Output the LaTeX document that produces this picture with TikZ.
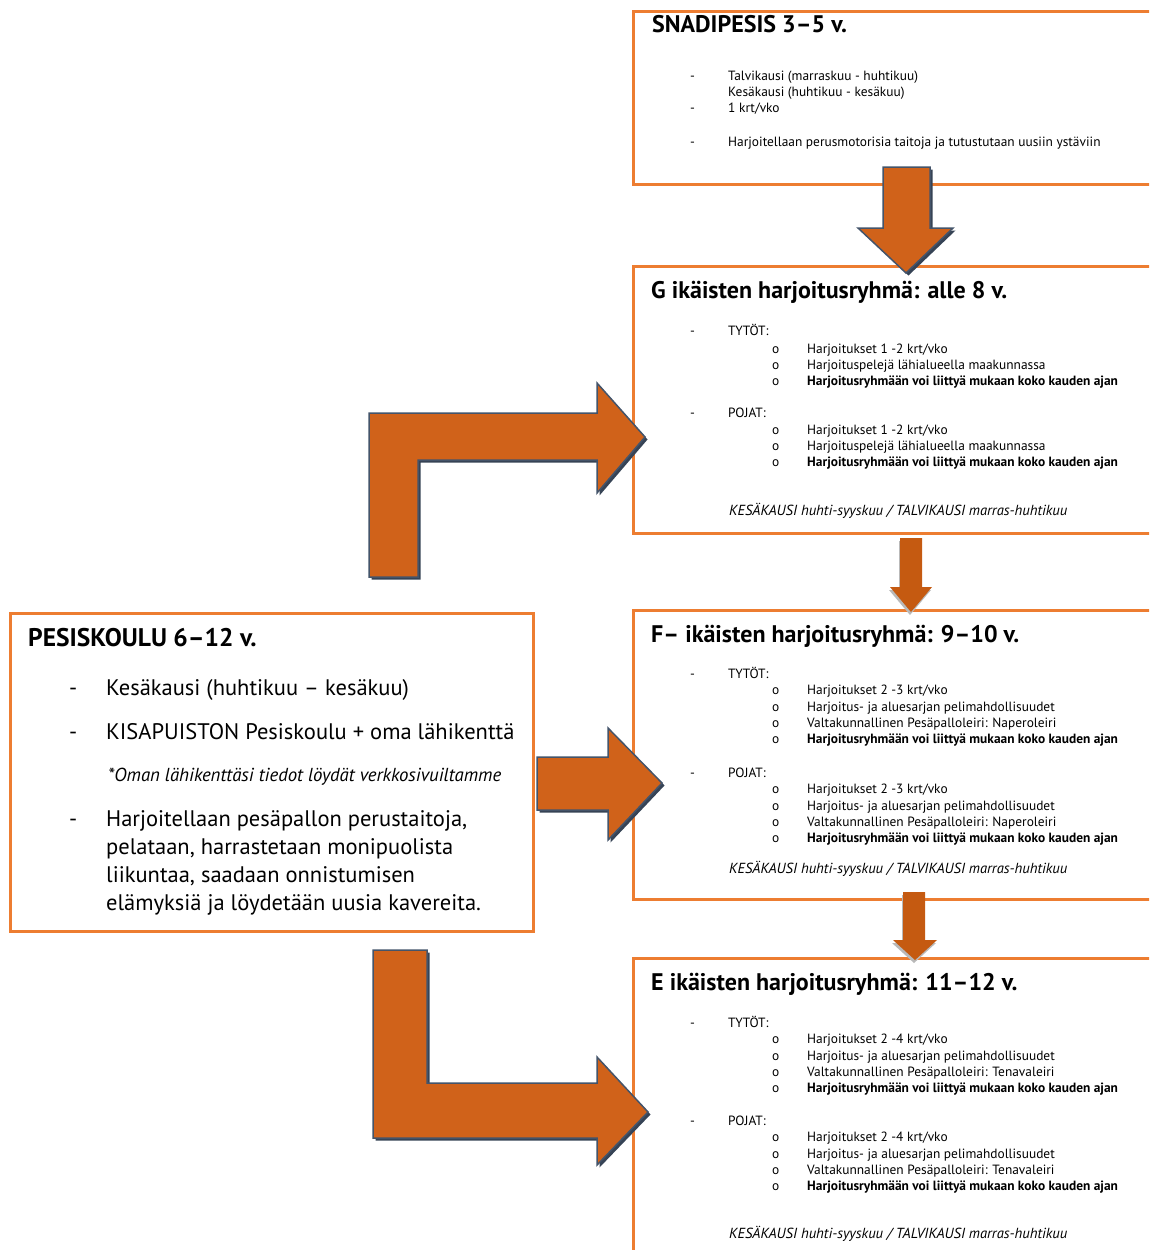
\documentclass[tikz,border=0pt]{standalone}
\usepackage{fontspec}
\setmainfont{PT Sans}
\usetikzlibrary{positioning}
\usepackage{xcolor}

\definecolor{boxorange}{HTML}{ED7D31}
\definecolor{arroworange}{HTML}{D0621A}
\definecolor{flatorange}{HTML}{C55A11}
\definecolor{arrowedge}{HTML}{44546A}

\tikzset{
  box/.style={draw=boxorange, line width=3pt, anchor=north west, inner sep=0pt},
  bigarrow/.style={fill=arroworange, draw=arrowedge, line width=1.5pt, line join=miter,
    preaction={fill=arrowedge!80!black, transform canvas={xshift=2.5pt, yshift=-2.5pt}}},
  flatarrow/.style={fill=flatorange,
    preaction={fill=gray!55, transform canvas={xshift=-1pt, yshift=-3pt}}},
  txt/.style={anchor=base west, inner sep=0pt, font=\fontsize{13.4}{16}\selectfont},
  foot/.style={txt, font=\fontsize{14.6}{17}\selectfont\itshape},
  head/.style={anchor=base west, inner sep=0pt, font=\fontsize{24}{28}\selectfont\bfseries},
  big/.style={anchor=base west, inner sep=0pt, font=\fontsize{22.5}{26}\selectfont},
}

\begin{document}
\begin{tikzpicture}[x=1pt, y=-1pt]
  \useasboundingbox (0,0) rectangle (1149,1250);
  \clip (0,0) rectangle (1149,1250);

  % boxes
  \node[box, minimum width=530pt, minimum height=173pt] (snadi) at (632,10) {};
  \node[box, minimum width=530pt, minimum height=267pt] (gbox) at (632,265) {};
  \node[box, minimum width=530pt, minimum height=289pt] (fbox) at (632,609) {};
  \node[box, minimum width=530pt, minimum height=310pt] (ebox) at (632,957) {};
  \node[box, minimum width=523pt, minimum height=318pt] (pesis) at (9,612) {};

  % SNADIPESIS
  \node[head] (stitle) at (652,32) {SNADIPESIS 3–5 v.};
  \node[txt] (sdash1) at (690,80) {-};
  \node[txt] (sline1) at (728,80) {Talvikausi (marraskuu - huhtikuu)};
  \node[txt] (sline2) at (728,96) {Kesäkausi (huhtikuu - kesäkuu)};
  \node[txt] (sdash2) at (690,112) {-};
  \node[txt] (sline3) at (728,112) {1 krt/vko};
  \node[txt] (sdash3) at (690,146) {-};
  \node[txt] (sline4) at (728,146) {Harjoitellaan perusmotorisia taitoja ja tutustutaan uusiin ystäviin};

  % G
  \node[head] (gtitle) at (651,298) {G ikäisten harjoitusryhmä: alle 8 v.};
  \node[txt] (gdash1) at (690,335) {-};
  \node[txt] (ggirls) at (728,335) {TYTÖT:};
  \foreach \yy/\t [count=\i] in {353/{Harjoitukset 1 -2 krt/vko}, 369/{Harjoituspelejä lähialueella maakunnassa},
      385/{\bfseries Harjoitusryhmään voi liittyä mukaan koko kauden ajan}} {
    \node[txt] (ggo\i) at (772,\yy) {o};
    \node[txt] (ggi\i) at (807,\yy) {\t};
  }
  \node[txt] (gdash2) at (690,417) {-};
  \node[txt] (gboys) at (728,417) {POJAT:};
  \foreach \yy/\t [count=\i] in {434/{Harjoitukset 1 -2 krt/vko}, 450/{Harjoituspelejä lähialueella maakunnassa},
      466/{\bfseries Harjoitusryhmään voi liittyä mukaan koko kauden ajan}} {
    \node[txt] (gbo\i) at (772,\yy) {o};
    \node[txt] (gbi\i) at (807,\yy) {\t};
  }
  \node[foot] (gfoot) at (729,515) {KESÄKAUSI huhti-syyskuu / TALVIKAUSI marras-huhtikuu};

  % F
  \node[head] (ftitle) at (651,642) {F– ikäisten harjoitusryhmä: 9–10 v.};
  \node[txt] (fdash1) at (690,678) {-};
  \node[txt] (fgirls) at (728,678) {TYTÖT:};
  \foreach \yy/\t [count=\i] in {694/{Harjoitukset 2 -3 krt/vko}, 711/{Harjoitus- ja aluesarjan pelimahdollisuudet},
      727/{Valtakunnallinen Pesäpalloleiri: Naperoleiri}, 743/{\bfseries Harjoitusryhmään voi liittyä mukaan koko kauden ajan}} {
    \node[txt] (fgo\i) at (772,\yy) {o};
    \node[txt] (fgi\i) at (807,\yy) {\t};
  }
  \node[txt] (fdash2) at (690,777) {-};
  \node[txt] (fboys) at (728,777) {POJAT:};
  \foreach \yy/\t [count=\i] in {793/{Harjoitukset 2 -3 krt/vko}, 810/{Harjoitus- ja aluesarjan pelimahdollisuudet},
      826/{Valtakunnallinen Pesäpalloleiri: Naperoleiri}, 842/{\bfseries Harjoitusryhmään voi liittyä mukaan koko kauden ajan}} {
    \node[txt] (fbo\i) at (772,\yy) {o};
    \node[txt] (fbi\i) at (807,\yy) {\t};
  }
  \node[foot] (ffoot) at (729,873) {KESÄKAUSI huhti-syyskuu / TALVIKAUSI marras-huhtikuu};

  % E
  \node[head] (etitle) at (651,990) {E ikäisten harjoitusryhmä: 11–12 v.};
  \node[txt] (edash1) at (690,1027) {-};
  \node[txt] (egirls) at (728,1027) {TYTÖT:};
  \foreach \yy/\t [count=\i] in {1043/{Harjoitukset 2 -4 krt/vko}, 1060/{Harjoitus- ja aluesarjan pelimahdollisuudet},
      1076/{Valtakunnallinen Pesäpalloleiri: Tenavaleiri}, 1092/{\bfseries Harjoitusryhmään voi liittyä mukaan koko kauden ajan}} {
    \node[txt] (ego\i) at (772,\yy) {o};
    \node[txt] (egi\i) at (807,\yy) {\t};
  }
  \node[txt] (edash2) at (690,1125) {-};
  \node[txt] (eboys) at (728,1125) {POJAT:};
  \foreach \yy/\t [count=\i] in {1141/{Harjoitukset 2 -4 krt/vko}, 1158/{Harjoitus- ja aluesarjan pelimahdollisuudet},
      1174/{Valtakunnallinen Pesäpalloleiri: Tenavaleiri}, 1190/{\bfseries Harjoitusryhmään voi liittyä mukaan koko kauden ajan}} {
    \node[txt] (ebo\i) at (772,\yy) {o};
    \node[txt] (ebi\i) at (807,\yy) {\t};
  }
  \node[foot] (efoot) at (729,1238) {KESÄKAUSI huhti-syyskuu / TALVIKAUSI marras-huhtikuu};

  % PESISKOULU
  \node[head, font=\fontsize{25.5}{28}\selectfont\bfseries] (ptitle) at (28,646) {PESISKOULU 6–12 v.};
  \node[big] (pdash1) at (69,695) {-};
  \node[big] (pline1) at (106,695) {Kesäkausi (huhtikuu – kesäkuu)};
  \node[big] (pdash2) at (69,739) {-};
  \node[big] (pline2) at (106,739) {KISAPUISTON Pesiskoulu + oma lähikenttä};
  \node[big, font=\fontsize{18.8}{22}\selectfont\itshape] (pnote) at (108,781) {*Oman lähikenttäsi tiedot löydät verkkosivuiltamme};
  \node[big] (pdash3) at (69,826) {-};
  \node[big] (pline3) at (106,826) {Harjoitellaan pesäpallon perustaitoja,};
  \node[big] (pline4) at (106,854) {pelataan, harrastetaan monipuolista};
  \node[big] (pline5) at (106,882) {liikuntaa, saadaan onnistumisen};
  \node[big] (pline6) at (106,910) {elämyksiä ja löydetään uusia kavereita.};

  % arrows
  \draw[bigarrow] (369,577) -- (369,413) -- (597,413) -- (597,383) -- (645,437)
    -- (597,493) -- (597,460) -- (418,460) -- (418,577) -- cycle;
  \draw[bigarrow] (537,757) -- (608,757) -- (608,728) -- (662,783) -- (608,840)
    -- (608,810) -- (537,810) -- cycle;
  \draw[bigarrow] (373,950) -- (427,950) -- (427,1083) -- (597,1083) -- (597,1057)
    -- (648,1112) -- (597,1165) -- (597,1138) -- (373,1138) -- cycle;
  \draw[bigarrow] (883,167) -- (930,167) -- (930,228) -- (953,228) -- (906,273)
    -- (858,228) -- (883,228) -- cycle;
  \fill[flatarrow] (900,538) -- (922,538) -- (922,587) -- (932,587) -- (911,612)
    -- (890,587) -- (900,587) -- cycle;
  \fill[flatarrow] (903,892) -- (925,892) -- (925,940) -- (937,940) -- (915,960)
    -- (893,940) -- (903,940) -- cycle;
\end{tikzpicture}
\end{document}
